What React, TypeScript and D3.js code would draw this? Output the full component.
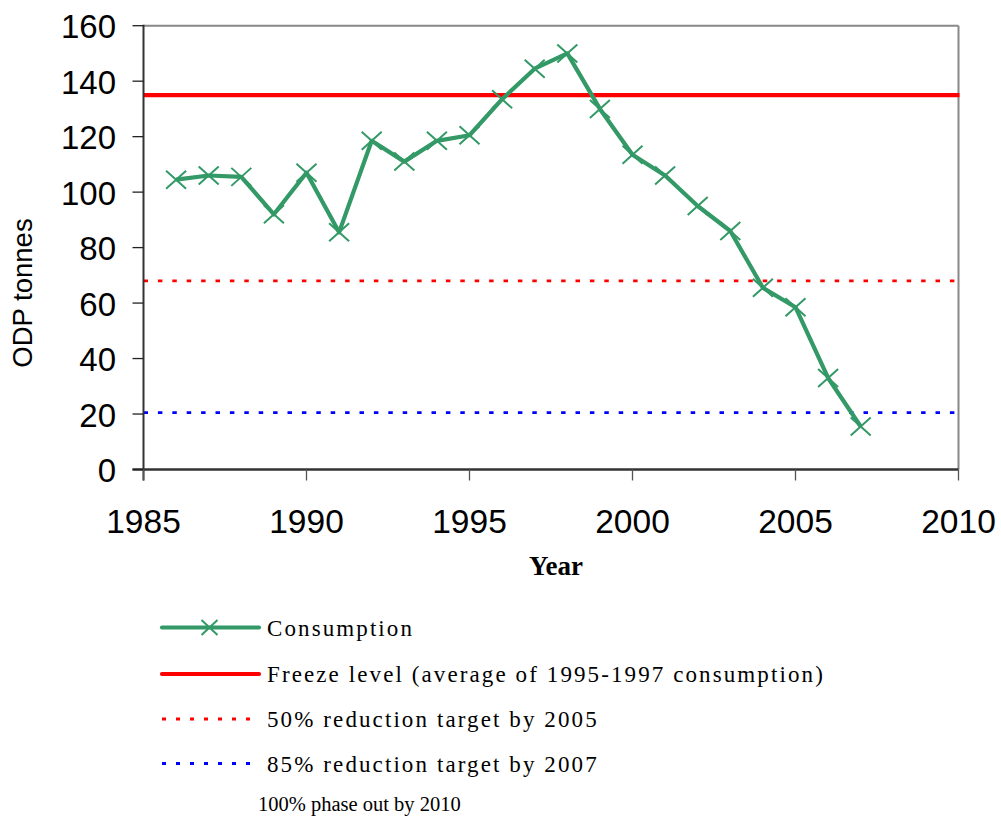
import React from "react";
import * as d3 from "d3";

const years = [1986, 1987, 1988, 1989, 1990, 1991, 1992, 1993, 1994, 1995, 1996, 1997, 1998, 1999, 2000, 2001, 2002, 2003, 2004, 2005, 2006, 2007];
const consumption = [104.5, 106, 105.5, 92, 107, 85.5, 118.5, 111, 118.5, 120.5, 133.5, 144.5, 150, 130, 113.5, 106, 95, 86, 65.5, 58.5, 33, 15.5];
const freezeLevel = 135;
const target50 = 68;
const target85 = 20.5;
const xTicks = [1985, 1990, 1995, 2000, 2005, 2010];
const yTicks = [0, 20, 40, 60, 80, 100, 120, 140, 160];
const legendLabels = [
  "Consumption",
  "Freeze level (average of 1995-1997 consumption)",
  "50% reduction target by 2005",
  "85% reduction target by 2007",
];
const footnote = "100% phase out by 2010";

const GREEN = "#339966";
const RED = "#ff0000";
const BLUE = "#0000ff";
const SANS = "'Liberation Sans', Arial, sans-serif";
const SERIF = "'Liberation Serif', 'Times New Roman', serif";

export default function App() {
  const W = 1001;
  const H = 816;
  const left = 143.5;
  const right = 958.5;
  const top = 25.7;
  const bottom = 469.5;

  const x = d3.scaleLinear().domain([1985, 2010]).range([left, right]);
  const y = d3.scaleLinear().domain([0, 160]).range([bottom, top]);

  const line = d3
    .line<number>()
    .x((_, i) => x(years[i]))
    .y((d) => y(d));

  const cross = (cx: number, cy: number, rx: number, ry: number, key: string | number) => (
    <path
      key={key}
      d={`M${cx - rx},${cy - ry}L${cx + rx},${cy + ry}M${cx - rx},${cy + ry}L${cx + rx},${cy - ry}`}
      stroke={GREEN}
      strokeWidth={2}
      fill="none"
    />
  );

  const legX0 = 162;
  const legX1 = 259;
  const legTextX = 267;
  const legY = [627.5, 674, 719, 763.5];

  return (
    <svg
      width={W}
      height={H}
      viewBox={`0 0 ${W} ${H}`}
      style={{ position: "absolute", left: 0, top: 0, background: "#fff" }}
    >
      <rect x={0} y={0} width={W} height={H} fill="#fff" />
      {/* plot frame */}
      <line x1={left} x2={right} y1={top} y2={top} stroke="#888" strokeWidth={2} />
      <line x1={right} x2={right} y1={top} y2={bottom} stroke="#888" strokeWidth={2} />

      {/* reference lines */}
      <line x1={left} x2={right} y1={y(target50)} y2={y(target50)} stroke={RED} strokeWidth={2.8} strokeDasharray="4.5 9.9" />
      <line x1={left} x2={right} y1={y(target85)} y2={y(target85)} stroke={BLUE} strokeWidth={2.8} strokeDasharray="4.5 9.9" />
      <line x1={left} x2={right + 1} y1={y(freezeLevel)} y2={y(freezeLevel)} stroke={RED} strokeWidth={4.2} />

      {/* consumption line */}
      <path d={line(consumption) || ""} fill="none" stroke={GREEN} strokeWidth={4.2} strokeLinejoin="round" />
      {consumption.map((v, i) => cross(x(years[i]), y(v), 10, 9, i))}

      {/* axes */}
      <line x1={left} x2={left} y1={top - 1} y2={bottom + 11} stroke="#333" strokeWidth={2} />
      <line x1={left - 11} x2={right} y1={bottom} y2={bottom} stroke="#333" strokeWidth={2.4} />
      {yTicks.map((t) => (
        <g key={"y" + t}>
          <line x1={left - 11} x2={left} y1={y(t)} y2={y(t)} stroke="#222" strokeWidth={1.3} />
          <text x={116} y={y(t) + 12.5} textAnchor="end" fontFamily={SANS} fontSize={33} fill="#000">
            {t}
          </text>
        </g>
      ))}
      {xTicks.map((t) => (
        <g key={"x" + t}>
          <line x1={x(t)} x2={x(t)} y1={bottom} y2={bottom + 11} stroke="#555" strokeWidth={1.3} />
          <text x={x(t)} y={bottom + 63} textAnchor="middle" fontFamily={SANS} fontSize={33.5} fill="#000">
            {t}
          </text>
        </g>
      ))}

      <text
        transform={`translate(32,293) rotate(-90)`}
        textAnchor="middle"
        fontFamily={SANS}
        fontSize={27.5}
        fill="#000"
      >
        ODP tonnes
      </text>
      <text x={556} y={575} textAnchor="middle" fontFamily={SERIF} fontWeight="bold" fontSize={27} fill="#000">
        Year
      </text>

      {/* legend */}
      <line x1={legX0} x2={legX1} y1={legY[0]} y2={legY[0]} stroke={GREEN} strokeWidth={4.2} strokeLinecap="round" />
      {cross((legX0 + legX1) / 2 - 1, legY[0], 8, 7.5, "leg")}
      <line x1={legX0} x2={legX1} y1={legY[1]} y2={legY[1]} stroke={RED} strokeWidth={4.2} strokeLinecap="round" />
      <line x1={legX0} x2={legX1 - 3} y1={legY[2]} y2={legY[2]} stroke={RED} strokeWidth={2.8} strokeDasharray="4 10" />
      <line x1={legX0} x2={legX1 - 3} y1={legY[3]} y2={legY[3]} stroke={BLUE} strokeWidth={2.8} strokeDasharray="4 10" />
      {legendLabels.map((s, i) => (
        <text
          key={s}
          x={legTextX}
          y={legY[i] + 8}
          fontFamily={SERIF}
          fontSize={23}
          letterSpacing={2.1}
          fill="#000"
        >
          {s}
        </text>
      ))}
      <text x={258} y={811} fontFamily={SERIF} fontSize={20.5} fill="#000">
        {footnote}
      </text>
    </svg>
  );
}
